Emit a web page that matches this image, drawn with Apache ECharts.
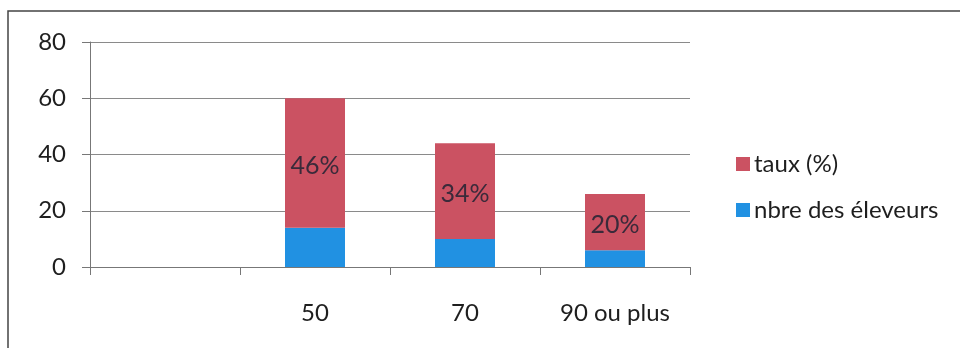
<!DOCTYPE html>
<html>
<head>
<meta charset="utf-8">
<script src="https://cdn.jsdelivr.net/npm/echarts@6/dist/echarts.min.js"></script>
<style>
  html, body { margin: 0; padding: 0; background: #fff; }
  #chart { width: 960px; height: 348px; }
</style>
</head>
<body>
<div id="chart"></div>
<script>
// Categories on the x axis (the first slot is left blank)
const categories = ['', '50', '70', '90 ou plus'];
// Number of breeders per category
const nbreEleveurs = [null, 14, 10, 6];
// Rate (%) stacked on top
const taux = [null, 46, 34, 20];
// Y axis ticks
const yMin = 0, yMax = 80, yStep = 20;

const FONT = 'Lato, "Open Sans", sans-serif';
const chart = echarts.init(document.getElementById('chart'));

chart.setOption({
  animation: false,
  backgroundColor: '#ffffff',
  textStyle: { fontFamily: FONT },
  graphic: [{
    type: 'rect',
    shape: { x: 8, y: 11, width: 1000, height: 400 },
    style: { fill: 'none', stroke: '#444', lineWidth: 1.5 },
    silent: true
  }],
  grid: { left: 90, top: 42, right: 270, bottom: 81 },
  legend: {
    orient: 'vertical',
    left: 731,
    top: 147,
    icon: 'rect',
    itemWidth: 14,
    itemHeight: 14,
    itemGap: 22,
    data: ['taux (%)', 'nbre des éleveurs'],
    textStyle: { fontFamily: FONT, fontSize: 24, color: '#1e1e1e', padding: [0, 0, 0, -1] }
  },
  xAxis: {
    type: 'category',
    data: categories,
    axisLine: { lineStyle: { color: '#777', width: 1 } },
    axisTick: { show: true, length: 8, lineStyle: { color: '#777' } },
    axisLabel: { fontFamily: FONT, fontSize: 24, color: '#1e1e1e', margin: 34 }
  },
  yAxis: {
    type: 'value',
    min: yMin, max: yMax, interval: yStep,
    axisLine: { show: true, lineStyle: { color: '#777', width: 1 } },
    axisTick: { show: true, length: 8, lineStyle: { color: '#777' } },
    splitLine: { lineStyle: { color: '#8a8a8a', width: 1 } },
    axisLabel: { fontFamily: FONT, fontSize: 24, color: '#1e1e1e', margin: 24 }
  },
  series: [
    {
      name: 'nbre des éleveurs',
      type: 'bar',
      stack: 'total',
      barWidth: 60,
      data: nbreEleveurs,
      itemStyle: { color: '#2191e2' }
    },
    {
      name: 'taux (%)',
      type: 'bar',
      stack: 'total',
      barWidth: 60,
      data: taux,
      itemStyle: { color: '#cb5262' },
      label: {
        show: true,
        position: 'inside',
        offset: [0, 3],
        formatter: '{c}%',
        fontFamily: FONT,
        fontSize: 25,
        color: '#3a2a3a'
      }
    }
  ]
});
</script>
</body>
</html>
